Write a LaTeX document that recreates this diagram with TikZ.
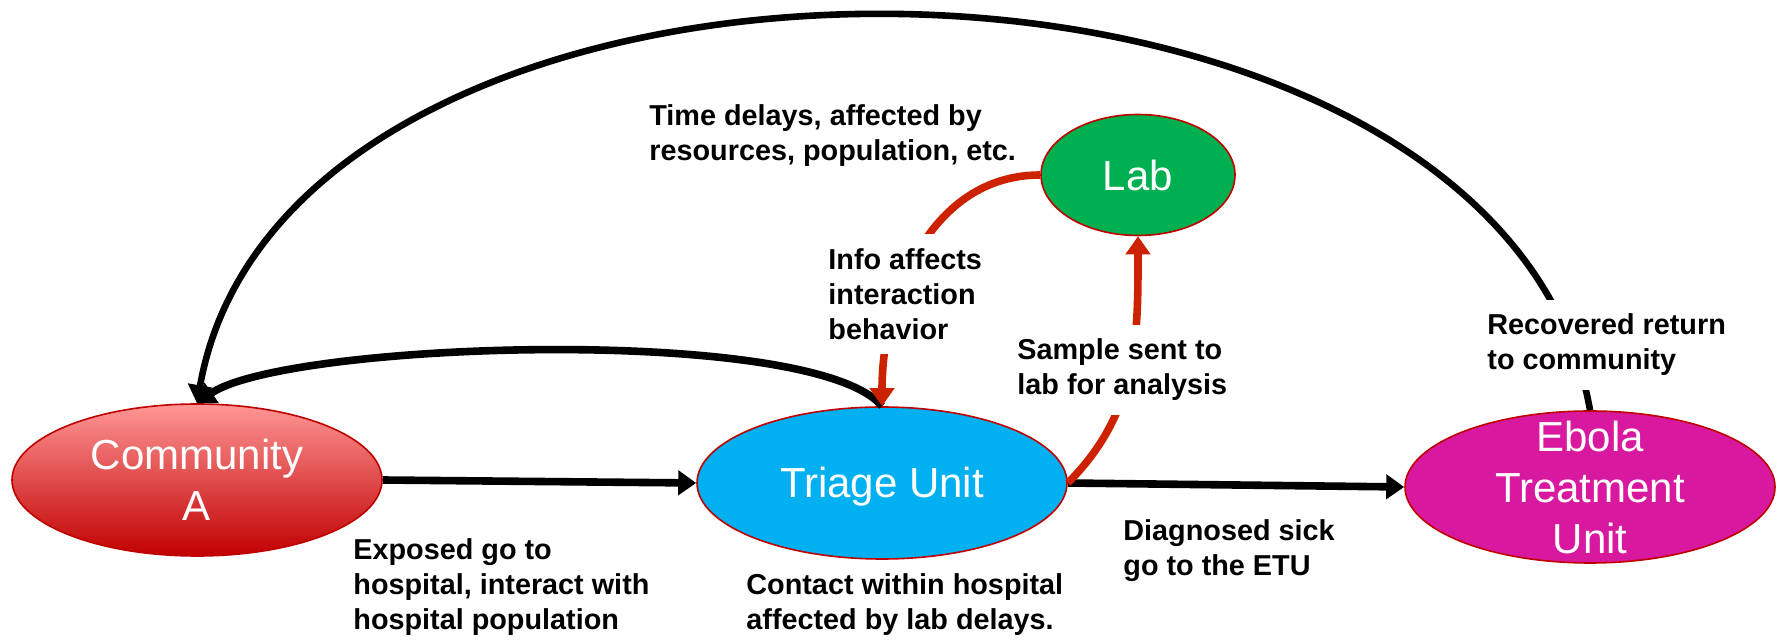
\documentclass[tikz,border=0pt]{standalone}
\usepackage{fontspec}
\setmainfont{Liberation Sans}
\usetikzlibrary{positioning, shapes.geometric, arrows.meta}

\definecolor{commtop}{RGB}{255,150,150}
\definecolor{commbot}{RGB}{192,0,0}
\definecolor{triageblue}{RGB}{0,176,240}
\definecolor{labgreen}{RGB}{0,176,80}
\definecolor{etupink}{RGB}{216,25,160}
\definecolor{rimred}{RGB}{192,0,0}
\definecolor{infored}{RGB}{204,34,0}

\begin{document}
\begin{tikzpicture}[x=0.5pt, y=0.5pt,
    place/.style={ellipse, draw=rimred, line width=0.8pt, inner sep=0pt,
      minimum width=185pt, minimum height=76pt},
    placetext/.style={text=white, align=center, inner sep=0pt,
      font=\fontsize{21}{25.5}\selectfont},
    flow/.style={line width=3.8pt, -{Triangle[length=9pt,width=12pt]}},
    redflow/.style={flow, draw=infored, -{Triangle[length=9pt,width=12pt,fill=infored]}},
    note/.style={align=left, anchor=west, inner sep=7pt,
      font=\fontsize{14.4}{17.5}\selectfont\bfseries},
    gapnote/.style={note, fill=white} % note that breaks a line
  ]
  \useasboundingbox (0,0) rectangle (1781,642); % page size in pixels

  % the four places
  \node[place, top color=commtop, bottom color=commbot] (comm) at (197,162) {};
  \node[place, fill=triageblue] (triage) at (882,159) {};
  \node[place, fill=labgreen, minimum width=97pt, minimum height=60.5pt] (lab) at (1138,467) {};
  \node[place, fill=etupink] (etu) at (1590,155) {};

  \node[placetext] (commtxt) at (comm) {Community\\A};
  \node[placetext, yshift=-2pt] (triagetxt) at (triage) {Triage Unit};
  \node[placetext] (labtxt) at (lab) {Lab};
  \node[placetext] (etutxt) at (etu) {Ebola\\Treatment\\Unit};

  % flows of people
  \draw[flow] (comm.east) -- (triage.west);
  \draw[flow] (triage.east) -- (etu.west);
  \draw[flow] (triage.north) to[out=130, in=35, looseness=0.4] (comm.north);
  \draw[flow, line width=3.3pt] (etu.north) to[out=100, in=80, looseness=0.97] (comm.north);

  % samples and information
  \draw[redflow] (triage.east) to[out=45, in=-90] (lab.south);
  \draw[redflow] (lab.west) to[out=180, in=90] (triage.north);

  % notes, left edge minus inner sep
  \node[note] (delays) at (635,506) {Time delays, affected by\\resources, population, etc.};
  \node[gapnote] (info) at (814,348) {Info affects\\interaction\\behavior};
  \node[gapnote] (sample) at (1003,272) {Sample sent to\\lab for analysis};
  \node[gapnote] (recovered) at (1473,297) {Recovered return\\to community};
  \node[note] (exposed) at (339,55) {Exposed go to\\hospital, interact with\\hospital population};
  \node[note] (contact) at (732,37) {Contact within hospital\\affected by lab delays.};
  \node[note] (diagnosed) at (1109,91) {Diagnosed sick\\go to the ETU};
\end{tikzpicture}
\end{document}
